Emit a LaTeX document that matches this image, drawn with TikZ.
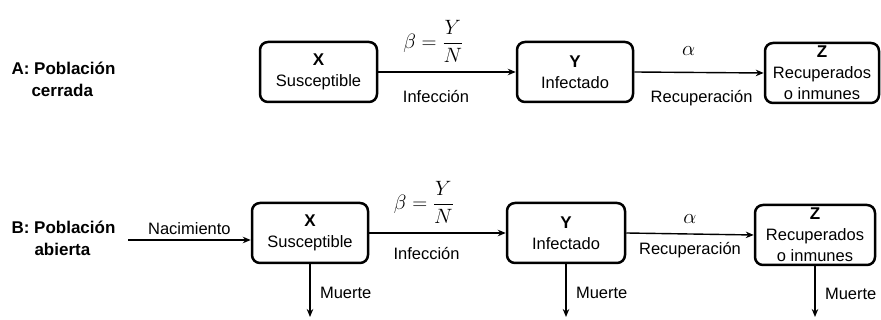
\documentclass[tikz,border=0pt]{standalone}
\usepackage{fontspec}
\setmainfont{Liberation Sans}
\usepackage{tikz}
\usetikzlibrary{arrows.meta, positioning, calc}
\tikzset{
  compbox/.style={draw=black, line width=2.5pt, rounded corners=8pt,
    minimum width=116pt, minimum height=60pt, align=center, inner sep=0pt,
    font=\fontsize{16.5}{21}\selectfont},
  flowarrow/.style={-{Stealth[length=8pt,width=6.5pt]}, line width=1.4pt},
  flowlabel/.style={font=\fontsize{16.5}{18}\selectfont},
  ratelabel/.style={font=\fontsize{20}{22}\selectfont},
  poplabel/.style={font=\bfseries\fontsize{17}{22}\selectfont, align=left, anchor=west}
}

\begin{document}
\begin{tikzpicture}[x=1pt, y=1pt]

  \useasboundingbox (0,0) rectangle (881,320);

  % A: closed population
  \node[poplabel] (popA) at (8,241) {A: Población\\\hspace*{20pt}cerrada};

  \node[compbox, minimum width=117pt] (susA) at (318.5,248)
    {{\fontsize{17}{17}\selectfont\bfseries X}\\Susceptible};
  \node[compbox] (infA) at (575,248)
    {{\fontsize{17}{17}\selectfont\bfseries Y}\\Infectado};
  \node[compbox, minimum width=114pt] (recA) at (822,247)
    {{\fontsize{17}{17}\selectfont\bfseries Z}\\Recuperados\\o inmunes};

  \draw[flowarrow] (susA.east) --
    node[pos=0.4, above=5pt, ratelabel] {$\displaystyle\beta=\frac{Y}{N}$}
    node[pos=0.42, below=14pt, flowlabel] {Infección} (infA.west);
  \draw[flowarrow] (infA.east) --
    node[pos=0.42, above=13pt, ratelabel] {$\alpha$}
    node[pos=0.52, below=14pt, flowlabel] {Recuperación} (recA.west);

  % B: open population
  \node[poplabel] (popB) at (8,82) {B: Población\\\hspace*{23pt}abierta};

  \node[compbox] (susB) at (310,87)
    {{\fontsize{17}{17}\selectfont\bfseries X}\\Susceptible};
  \node[compbox, minimum width=118pt] (infB) at (566,87)
    {{\fontsize{17}{17}\selectfont\bfseries Y}\\Infectado};
  \node[compbox, minimum width=120pt] (recB) at (815,85)
    {{\fontsize{17}{17}\selectfont\bfseries Z}\\Recuperados\\o inmunes};

  \coordinate (birth) at (128,80);
  \coordinate (floor) at (0,3);

  \draw[flowarrow] (birth) -- node[above=1pt, flowlabel] {Nacimiento} (birth -| susB.west);
  \draw[flowarrow] (susB.east) --
    node[pos=0.4, above=5pt, ratelabel] {$\displaystyle\beta=\frac{Y}{N}$}
    node[pos=0.42, below=10pt, flowlabel] {Infección} (infB.west);
  \draw[flowarrow] (infB.east) --
    node[pos=0.5, above=6pt, ratelabel] {$\alpha$}
    node[pos=0.5, below=4pt, flowlabel] {Recuperación} (recB.west);

  \draw[flowarrow] (susB.south) -- node[pos=0.55, right=6pt, flowlabel] {Muerte} (susB.south |- floor);
  \draw[flowarrow] (infB.south) -- node[pos=0.55, right=6pt, flowlabel] {Muerte} (infB.south |- floor);
  \draw[flowarrow] (recB.south) -- node[pos=0.55, right=6pt, flowlabel] {Muerte} (recB.south |- floor);

\end{tikzpicture}
\end{document}
